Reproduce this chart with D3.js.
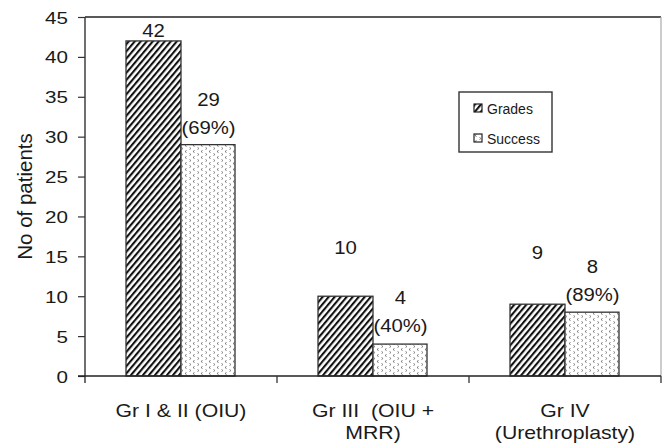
<!DOCTYPE html>
<html>
<head>
<meta charset="utf-8">
<script src="https://cdn.jsdelivr.net/npm/d3@7"></script>
<style>
  html, body { margin: 0; padding: 0; background: #fff; }
  svg { display: block; }
  text { font-family: "Liberation Sans", Arial, Helvetica, sans-serif; fill: #1a1a1a; }
</style>
</head>
<body>
<svg id="chart" width="664" height="447"></svg>
<script>
// ---- data ----
const categories = [["Gr I & II (OIU)"], ["Gr III  (OIU +", "MRR)"], ["Gr IV", "(Urethroplasty)"]];
const grades = [42, 10, 9];
const success = [29, 4, 8];
const successPct = ["69%", "40%", "89%"];
const seriesNames = ["Grades", "Success"];
const yTicks = [0, 5, 10, 15, 20, 25, 30, 35, 40, 45];

// ---- layout ----
const W = 664, H = 447;
const m = { left: 85, right: 3, top: 17, bottom: 71 };
const svg = d3.select("#chart");

const x = d3.scaleBand().domain(d3.range(categories.length)).range([m.left, W - m.right]).paddingInner(0).paddingOuter(0);
const y = d3.scaleLinear().domain([0, 45]).range([H - m.bottom, m.top]);
const barW = 55;

// patterns
const defs = svg.append("defs");
const hatch = defs.append("pattern").attr("id", "hatch").attr("patternUnits", "userSpaceOnUse")
  .attr("width", 4.6).attr("height", 4.6).attr("patternTransform", "rotate(40)");
hatch.append("rect").attr("width", 4.6).attr("height", 4.6).attr("fill", "#fff");
hatch.append("rect").attr("x", 0).attr("y", 0).attr("width", 2.1).attr("height", 4.6).attr("fill", "#111");

const dots = defs.append("pattern").attr("id", "dots").attr("patternUnits", "userSpaceOnUse")
  .attr("width", 8).attr("height", 6);
dots.append("rect").attr("width", 8).attr("height", 6).attr("fill", "#fff");
dots.append("path").attr("d", "M2.5,0.5 L1,1.5 L2.5,2.5").attr("stroke", "#666").attr("stroke-width", 0.9).attr("fill", "none");
dots.append("path").attr("d", "M5.5,3.5 L7,4.5 L5.5,5.5").attr("stroke", "#777").attr("stroke-width", 0.9).attr("fill", "none");

// frame: top and right
svg.append("line").attr("x1", m.left).attr("x2", W - m.right).attr("y1", y(45)).attr("y2", y(45))
  .attr("stroke", "#222").attr("stroke-width", 1.6);
svg.append("line").attr("x1", W - m.right).attr("x2", W - m.right).attr("y1", y(45)).attr("y2", y(0))
  .attr("stroke", "#aaa").attr("stroke-width", 1.2);

// bars
const g = svg.append("g");
g.selectAll("rect.grades").data(grades).join("rect").attr("class", "grades")
  .attr("x", (d, i) => x(i) + x.bandwidth() / 2 - barW)
  .attr("y", d => y(d)).attr("width", barW).attr("height", d => y(0) - y(d))
  .attr("fill", "url(#hatch)").attr("stroke", "#333").attr("stroke-width", 1.3);
g.selectAll("rect.success").data(success).join("rect").attr("class", "success")
  .attr("x", (d, i) => x(i) + x.bandwidth() / 2)
  .attr("y", d => y(d)).attr("width", barW - 1).attr("height", d => y(0) - y(d))
  .attr("fill", "url(#dots)").attr("stroke", "#333").attr("stroke-width", 1.3);

// y axis
const yAxis = d3.axisLeft(y).tickValues(yTicks).tickSize(7).tickFormat(d3.format("d"));
const ya = svg.append("g").attr("transform", `translate(${m.left},0)`).call(yAxis);
ya.select(".domain").remove();
ya.selectAll(".tick line").attr("stroke", "#333").attr("stroke-width", 1.2);
ya.selectAll(".tick text").attr("x", null).attr("dy", null)
  .attr("font-size", 16.5).attr("text-anchor", "end")
  .attr("transform", "translate(-17,6) scale(1.25,1)");
svg.append("line").attr("x1", m.left).attr("x2", m.left).attr("y1", y(45)).attr("y2", y(0) + 7)
  .attr("stroke", "#333").attr("stroke-width", 1.4);

// x axis baseline with category boundary ticks
svg.append("line").attr("x1", m.left - 7).attr("x2", W - m.right).attr("y1", y(0)).attr("y2", y(0))
  .attr("stroke", "#222").attr("stroke-width", 1.6);
svg.selectAll("line.xtick").data(d3.range(1, categories.length + 1)).join("line").attr("class", "xtick")
  .attr("x1", i => x(i - 1) + x.bandwidth()).attr("x2", i => x(i - 1) + x.bandwidth())
  .attr("y1", y(0)).attr("y2", y(0) + 7).attr("stroke", "#333").attr("stroke-width", 1.3);

// category labels
categories.forEach((lines, i) => {
  lines.forEach((t, j) => {
    svg.append("text").attr("xml:space", "preserve").style("white-space", "pre")
      .attr("transform", `translate(${x(i) + x.bandwidth() / 2},${417 + j * 22}) scale(1.18,1)`)
      .attr("text-anchor", "middle").attr("font-size", 18).text(t);
  });
});

// y title
svg.append("text").attr("transform", `translate(32,${(y(0) + y(45)) / 2}) rotate(-90)`)
  .attr("text-anchor", "middle").attr("font-size", 20.5).text("No of patients");

// value labels (vertical offsets above bar tops)
const gradeLabelGap = [4, 42, 45];
const successLabelGap = [39, 40, 39];
grades.forEach((v, i) => {
  svg.append("text")
    .attr("transform", `translate(${x(i) + x.bandwidth() / 2 - barW / 2},${y(v) - gradeLabelGap[i]}) scale(1.13,1)`)
    .attr("text-anchor", "middle").attr("font-size", 18).text(v);
});
success.forEach((v, i) => {
  const cx = x(i) + x.bandwidth() / 2 + barW / 2;
  const base = y(v) - successLabelGap[i];
  svg.append("text").attr("transform", `translate(${cx},${base}) scale(1.13,1)`)
    .attr("text-anchor", "middle").attr("font-size", 18).text(v);
  svg.append("text").attr("transform", `translate(${cx},${base + 28}) scale(1.13,1)`)
    .attr("text-anchor", "middle").attr("font-size", 18).text("(" + successPct[i] + ")");
});

// legend
const lg = svg.append("g").attr("transform", "translate(459,92)");
lg.append("rect").attr("width", 93).attr("height", 60).attr("fill", "#fff").attr("stroke", "#333").attr("stroke-width", 1.4);
const fills = ["url(#hatch)", "url(#dots)"];
seriesNames.forEach((n, i) => {
  const row = lg.append("g").attr("transform", `translate(15,${12 + i * 30})`);
  row.append("rect").attr("width", 8).attr("height", 8).attr("fill", fills[i]).attr("stroke", "#222").attr("stroke-width", 1.2);
  row.append("text").attr("x", 13).attr("y", 9.5).attr("font-size", 14).text(n);
});
</script>
</body>
</html>
